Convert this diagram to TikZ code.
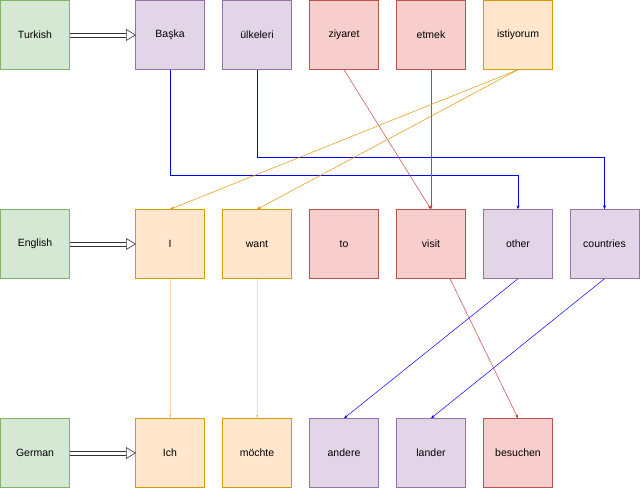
\documentclass[tikz,border=0pt]{standalone}
\usepackage{fontspec}
\setmainfont{Liberation Sans}
\usetikzlibrary{arrows.meta}
\definecolor{gfill}{HTML}{D5E8D4}\definecolor{gline}{HTML}{82B366}
\definecolor{pfill}{HTML}{E1D5E7}\definecolor{pline}{HTML}{9673A6}
\definecolor{rfill}{HTML}{F8CECC}\definecolor{rline}{HTML}{B85450}
\definecolor{ofill}{HTML}{FFE6CC}\definecolor{oline}{HTML}{D79B00}
\tikzset{
  word/.style={draw, minimum width=69pt, minimum height=69pt, inner sep=0pt, font=\fontsize{10.5}{12}\selectfont},
  lang/.style={word, fill=gfill, draw=gline},
  purp/.style={word, fill=pfill, draw=pline},
  redw/.style={word, fill=rfill, draw=rline},
  oran/.style={word, fill=ofill, draw=oline},
  feed/.style={draw=black!80, line width=0.6pt},
  link/.style={-{Stealth[length=4pt, width=3pt]}, line width=0.5pt}
}
\begin{document}
\begin{tikzpicture}[x=1pt, y=-1pt]
\useasboundingbox (0,0) rectangle (640,488);
% Turkish
\node[lang] (Turkish) at (35,35) {Turkish};
\node[purp] (Baska) at (170,35) {Başka};
\node[purp] (ulkeleri) at (257,35) {ülkeleri};
\node[redw] (ziyaret) at (344,35) {ziyaret};
\node[redw] (etmek) at (431,35) {etmek};
\node[oran] (istiyorum) at (518,35) {istiyorum};
% English
\node[lang] (English) at (35,244) {English};
\node[oran] (I) at (170,244) {I};
\node[oran] (want) at (257,244) {want};
\node[redw] (to) at (344,244) {to};
\node[redw] (visit) at (431,244) {visit};
\node[purp] (other) at (518,244) {other};
\node[purp] (countries) at (604.5,244) {countries};
% German
\node[lang] (German) at (35,453) {German};
\node[oran] (Ich) at (170,453) {Ich};
\node[oran] (mochte) at (257,453) {möchte};
\node[purp] (andere) at (344,453) {andere};
\node[purp] (lander) at (431,453) {lander};
\node[redw] (besuchen) at (518,453) {besuchen};

% hollow double arrows
\foreach \src/\dst in {Turkish/Baska, English/I, German/Ich} {
  \draw[feed] ([yshift=-2pt]\src.east) -- ([xshift=-9pt, yshift=-2pt]\dst.west);
  \draw[feed] ([yshift=2pt]\src.east) -- ([xshift=-9pt, yshift=2pt]\dst.west);
  \draw[feed, fill=white, line join=miter] ([xshift=-9pt, yshift=-5.5pt]\dst.west) -- (\dst.west) -- ([xshift=-9pt, yshift=5.5pt]\dst.west) -- cycle;
}

\draw[link, blue] (Baska.south) |- (518,175) -- (other.north);
\draw[link, blue] (ulkeleri.south) |- (604.5,157) -- (countries.north);
\draw[link, rline!80!red] (ziyaret.south) -- (visit.north);
\draw[link, rline!80!red] (etmek.south) -- (visit.north);
\draw[link, oline!80!orange] (istiyorum.south) -- (I.north);
\draw[link, oline!80!orange] (istiyorum.south) -- (want.north);
\draw[link, oline!80!orange, opacity=0.35] (I.south) -- (Ich.north);
\draw[link, oline!80!orange, opacity=0.35] (want.south) -- (mochte.north);
\draw[link, rline!80!red] ([xshift=19pt]visit.south) -- (besuchen.north);
\draw[link, blue] (other.south) -- (andere.north);
\draw[link, blue] (countries.south) -- (lander.north);
\end{tikzpicture}
\end{document}
